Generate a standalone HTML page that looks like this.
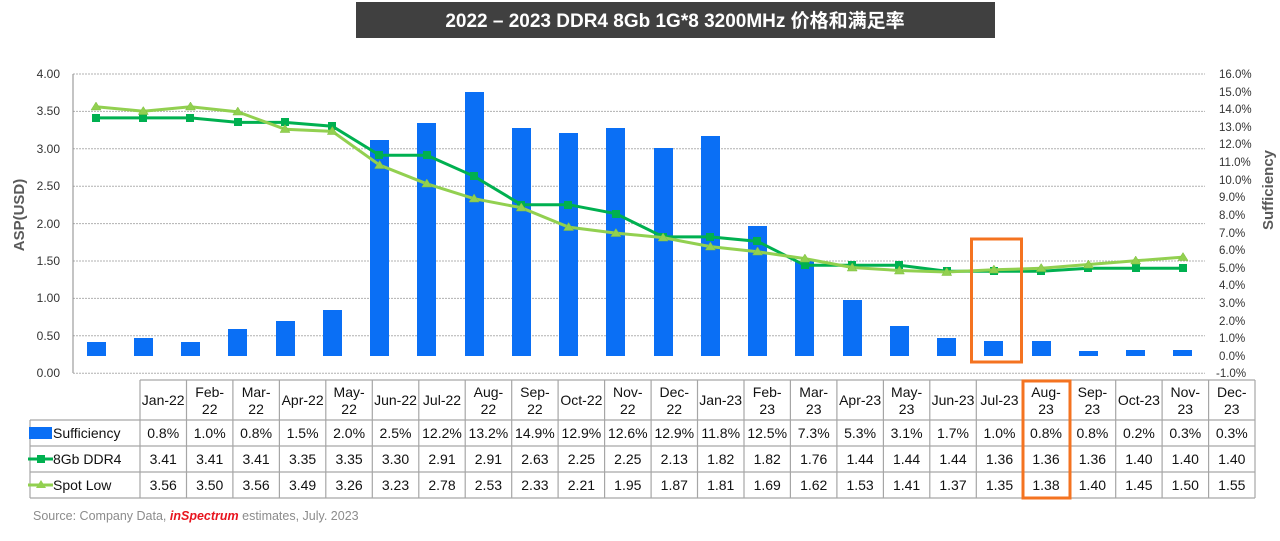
<!DOCTYPE html>
<html><head><meta charset="utf-8"><style>
html,body{margin:0;padding:0;background:#fff;}
svg{display:block;font-family:"Liberation Sans","Noto Sans CJK SC",sans-serif;}
</style></head><body>
<svg width="1280" height="541" viewBox="0 0 1280 541" xmlns="http://www.w3.org/2000/svg">
<rect x="356" y="2" width="639" height="36" fill="#404040"/>
<text x="675" y="27" fill="#fff" font-size="19" font-weight="bold" text-anchor="middle">2022 – 2023 DDR4 8Gb 1G*8 3200MHz 价格和满足率</text>

<g stroke="#b0b0b0" stroke-dasharray="2,1" stroke-width="1">
<line x1="73" x2="1205" y1="74" y2="74"/><line x1="73" x2="1205" y1="111.4" y2="111.4"/>
<line x1="73" x2="1205" y1="148.8" y2="148.8"/><line x1="73" x2="1205" y1="186.2" y2="186.2"/>
<line x1="73" x2="1205" y1="223.6" y2="223.6"/><line x1="73" x2="1205" y1="261" y2="261"/>
<line x1="73" x2="1205" y1="298.4" y2="298.4"/><line x1="73" x2="1205" y1="335.8" y2="335.8"/>
<line x1="73" x2="1205" y1="373.2" y2="373.2"/>
</g>
<line x1="73" x2="73" y1="74" y2="373" stroke="#888"/>
<g font-size="12" fill="#333" text-anchor="end">
<text x="60" y="78">4.00</text><text x="60" y="115">3.50</text><text x="60" y="153">3.00</text>
<text x="60" y="190">2.50</text><text x="60" y="228">2.00</text><text x="60" y="265">1.50</text>
<text x="60" y="302">1.00</text><text x="60" y="340">0.50</text><text x="60" y="377">0.00</text>
</g>
<text transform="translate(24,215) rotate(-90)" font-size="15" font-weight="bold" fill="#595959" text-anchor="middle">ASP(USD)</text>
<g font-size="11.5" fill="#333">
<text x="1219" y="78">16.0%</text><text x="1219" y="96">15.0%</text><text x="1219" y="113">14.0%</text>
<text x="1219" y="131">13.0%</text><text x="1219" y="148">12.0%</text><text x="1219" y="166">11.0%</text>
<text x="1219" y="184">10.0%</text><text x="1219" y="201">9.0%</text><text x="1219" y="219">8.0%</text>
<text x="1219" y="237">7.0%</text><text x="1219" y="254">6.0%</text><text x="1219" y="272">5.0%</text>
<text x="1219" y="289">4.0%</text><text x="1219" y="307">3.0%</text><text x="1219" y="325">2.0%</text>
<text x="1219" y="342">1.0%</text><text x="1219" y="360">0.0%</text><text x="1216" y="377">-1.0%</text>
</g>
<text transform="translate(1273,190) rotate(-90)" font-size="15" font-weight="bold" fill="#595959" text-anchor="middle">Sufficiency</text>

<g fill="#0a6ff5">
<rect x="87" y="342" width="19" height="14"/><rect x="134" y="338" width="19" height="18"/>
<rect x="181" y="342" width="19" height="14"/><rect x="228" y="329" width="19" height="27"/>
<rect x="276" y="321" width="19" height="35"/><rect x="323" y="310" width="19" height="46"/>
<rect x="370" y="140" width="19" height="216"/><rect x="417" y="123" width="19" height="233"/>
<rect x="465" y="92" width="19" height="264"/><rect x="512" y="128" width="19" height="228"/>
<rect x="559" y="133" width="19" height="223"/><rect x="606" y="128" width="19" height="228"/>
<rect x="654" y="148" width="19" height="208"/><rect x="701" y="136" width="19" height="220"/>
<rect x="748" y="226" width="19" height="130"/><rect x="795" y="261" width="19" height="95"/>
<rect x="843" y="300" width="19" height="56"/><rect x="890" y="326" width="19" height="30"/>
<rect x="937" y="338" width="19" height="18"/><rect x="984" y="341" width="19" height="15"/>
<rect x="1032" y="341" width="19" height="15"/><rect x="1079" y="351" width="19" height="5"/>
<rect x="1126" y="350" width="19" height="6"/><rect x="1173" y="350" width="19" height="6"/>
</g>

<polyline fill="none" stroke="#00b050" stroke-width="3" points="96,117.9 143.3,117.9 190.5,117.9 237.8,122.4 285,122.4 332.3,126.2 379.6,155.3 426.8,155.3 474.1,176.3 521.3,204.7 568.6,204.7 615.9,213.7 663.1,236.9 710.4,236.9 757.6,241.4 804.9,265.3 852.2,265.3 899.4,265.3 946.7,271.3 993.9,271.3 1041.2,271.3 1088.5,268.3 1135.7,268.3 1183,268.3"/>
<g fill="#00b050">
<rect x="92" y="114" width="8" height="8"/><rect x="139" y="114" width="8" height="8"/><rect x="186" y="114" width="8" height="8"/>
<rect x="234" y="118" width="8" height="8"/><rect x="281" y="118" width="8" height="8"/><rect x="328" y="122" width="8" height="8"/>
<rect x="375" y="151" width="8" height="8"/><rect x="423" y="151" width="8" height="8"/><rect x="470" y="172" width="8" height="8"/>
<rect x="517" y="201" width="8" height="8"/><rect x="564" y="201" width="8" height="8"/><rect x="612" y="210" width="8" height="8"/>
<rect x="659" y="233" width="8" height="8"/><rect x="706" y="233" width="8" height="8"/><rect x="753" y="237" width="8" height="8"/>
<rect x="801" y="261" width="8" height="8"/><rect x="848" y="261" width="8" height="8"/><rect x="895" y="261" width="8" height="8"/>
<rect x="943" y="267" width="8" height="8"/><rect x="990" y="267" width="8" height="8"/><rect x="1037" y="267" width="8" height="8"/>
<rect x="1084" y="264" width="8" height="8"/><rect x="1132" y="264" width="8" height="8"/><rect x="1179" y="264" width="8" height="8"/>
</g>
<polyline fill="none" stroke="#92d050" stroke-width="3" points="96,106.7 143.3,111.2 190.5,106.7 237.8,111.9 285,129.2 332.3,131.4 379.6,165.1 426.8,183.8 474.1,198.7 521.3,207.7 568.6,227.1 615.9,233.1 663.1,237.6 710.4,246.6 757.6,251.8 804.9,258.6 852.2,267.5 899.4,270.5 946.7,272 993.9,269.8 1041.2,268.3 1088.5,264.5 1135.7,260.8 1183,257.1"/>
<g fill="#92d050" stroke="#7fbf3f" stroke-width="0.5">
<path d="M96,102 l5,8 h-10z"/><path d="M143.3,106.5 l5,8 h-10z"/><path d="M190.5,102 l5,8 h-10z"/>
<path d="M237.8,107 l5,8 h-10z"/><path d="M285,124.5 l5,8 h-10z"/><path d="M332.3,126.5 l5,8 h-10z"/>
<path d="M379.6,160.5 l5,8 h-10z"/><path d="M426.8,179 l5,8 h-10z"/><path d="M474.1,194 l5,8 h-10z"/>
<path d="M521.3,203 l5,8 h-10z"/><path d="M568.6,222.5 l5,8 h-10z"/><path d="M615.9,228.5 l5,8 h-10z"/>
<path d="M663.1,233 l5,8 h-10z"/><path d="M710.4,242 l5,8 h-10z"/><path d="M757.6,247 l5,8 h-10z"/>
<path d="M804.9,254 l5,8 h-10z"/><path d="M852.2,263 l5,8 h-10z"/><path d="M899.4,266 l5,8 h-10z"/>
<path d="M946.7,267.5 l5,8 h-10z"/><path d="M993.9,265 l5,8 h-10z"/><path d="M1041.2,263.5 l5,8 h-10z"/>
<path d="M1088.5,260 l5,8 h-10z"/><path d="M1135.7,256 l5,8 h-10z"/><path d="M1183,252.5 l5,8 h-10z"/>
</g>

<!-- table -->
<g stroke="#a6a6a6" stroke-width="1.2" fill="none">
<line x1="140" x2="1255" y1="380" y2="380"/><line x1="30" x2="1255" y1="420" y2="420"/>
<line x1="30" x2="1255" y1="446" y2="446"/><line x1="30" x2="1255" y1="472" y2="472"/>
<line x1="30" x2="1255" y1="498" y2="498"/>
<line x1="30" x2="30" y1="420" y2="498"/>
<line x1="140" x2="140" y1="380" y2="498"/><line x1="186.5" x2="186.5" y1="380" y2="498"/><line x1="232.9" x2="232.9" y1="380" y2="498"/>
<line x1="279.4" x2="279.4" y1="380" y2="498"/><line x1="325.8" x2="325.8" y1="380" y2="498"/><line x1="372.3" x2="372.3" y1="380" y2="498"/>
<line x1="418.8" x2="418.8" y1="380" y2="498"/><line x1="465.2" x2="465.2" y1="380" y2="498"/><line x1="511.7" x2="511.7" y1="380" y2="498"/>
<line x1="558.1" x2="558.1" y1="380" y2="498"/><line x1="604.6" x2="604.6" y1="380" y2="498"/><line x1="651.1" x2="651.1" y1="380" y2="498"/>
<line x1="697.5" x2="697.5" y1="380" y2="498"/><line x1="744" x2="744" y1="380" y2="498"/><line x1="790.4" x2="790.4" y1="380" y2="498"/>
<line x1="836.9" x2="836.9" y1="380" y2="498"/><line x1="883.4" x2="883.4" y1="380" y2="498"/><line x1="929.8" x2="929.8" y1="380" y2="498"/>
<line x1="976.3" x2="976.3" y1="380" y2="498"/><line x1="1022.7" x2="1022.7" y1="380" y2="498"/><line x1="1069.2" x2="1069.2" y1="380" y2="498"/>
<line x1="1115.7" x2="1115.7" y1="380" y2="498"/><line x1="1162.1" x2="1162.1" y1="380" y2="498"/><line x1="1208.6" x2="1208.6" y1="380" y2="498"/>
<line x1="1255" x2="1255" y1="380" y2="498"/>
</g>
<g font-size="14" fill="#111" text-anchor="middle">
<text x="163.2" y="405">Jan-22</text>
<text x="209.7" y="397">Feb-</text><text x="209.7" y="414">22</text>
<text x="256.1" y="397">Mar-</text><text x="256.1" y="414">22</text>
<text x="302.6" y="405">Apr-22</text>
<text x="349.1" y="397">May-</text><text x="349.1" y="414">22</text>
<text x="395.5" y="405">Jun-22</text>
<text x="442" y="405">Jul-22</text>
<text x="488.4" y="397">Aug-</text><text x="488.4" y="414">22</text>
<text x="534.9" y="397">Sep-</text><text x="534.9" y="414">22</text>
<text x="581.4" y="405">Oct-22</text>
<text x="627.8" y="397">Nov-</text><text x="627.8" y="414">22</text>
<text x="674.3" y="397">Dec-</text><text x="674.3" y="414">22</text>
<text x="720.7" y="405">Jan-23</text>
<text x="767.2" y="397">Feb-</text><text x="767.2" y="414">23</text>
<text x="813.7" y="397">Mar-</text><text x="813.7" y="414">23</text>
<text x="860.1" y="405">Apr-23</text>
<text x="906.6" y="397">May-</text><text x="906.6" y="414">23</text>
<text x="953" y="405">Jun-23</text>
<text x="999.5" y="405">Jul-23</text>
<text x="1046" y="397">Aug-</text><text x="1046" y="414">23</text>
<text x="1092.4" y="397">Sep-</text><text x="1092.4" y="414">23</text>
<text x="1138.9" y="405">Oct-23</text>
<text x="1185.3" y="397">Nov-</text><text x="1185.3" y="414">23</text>
<text x="1231.8" y="397">Dec-</text><text x="1231.8" y="414">23</text>
</g>
<g font-size="14" fill="#111" text-anchor="middle">
<text y="438"><tspan x="163.2">0.8%</tspan><tspan x="209.7">1.0%</tspan><tspan x="256.1">0.8%</tspan><tspan x="302.6">1.5%</tspan><tspan x="349.1">2.0%</tspan><tspan x="395.5">2.5%</tspan><tspan x="442">12.2%</tspan><tspan x="488.4">13.2%</tspan><tspan x="534.9">14.9%</tspan><tspan x="581.4">12.9%</tspan><tspan x="627.8">12.6%</tspan><tspan x="674.3">12.9%</tspan><tspan x="720.7">11.8%</tspan><tspan x="767.2">12.5%</tspan><tspan x="813.7">7.3%</tspan><tspan x="860.1">5.3%</tspan><tspan x="906.6">3.1%</tspan><tspan x="953">1.7%</tspan><tspan x="999.5">1.0%</tspan><tspan x="1046">0.8%</tspan><tspan x="1092.4">0.8%</tspan><tspan x="1138.9">0.2%</tspan><tspan x="1185.3">0.3%</tspan><tspan x="1231.8">0.3%</tspan></text>
<text y="464"><tspan x="163.2">3.41</tspan><tspan x="209.7">3.41</tspan><tspan x="256.1">3.41</tspan><tspan x="302.6">3.35</tspan><tspan x="349.1">3.35</tspan><tspan x="395.5">3.30</tspan><tspan x="442">2.91</tspan><tspan x="488.4">2.91</tspan><tspan x="534.9">2.63</tspan><tspan x="581.4">2.25</tspan><tspan x="627.8">2.25</tspan><tspan x="674.3">2.13</tspan><tspan x="720.7">1.82</tspan><tspan x="767.2">1.82</tspan><tspan x="813.7">1.76</tspan><tspan x="860.1">1.44</tspan><tspan x="906.6">1.44</tspan><tspan x="953">1.44</tspan><tspan x="999.5">1.36</tspan><tspan x="1046">1.36</tspan><tspan x="1092.4">1.36</tspan><tspan x="1138.9">1.40</tspan><tspan x="1185.3">1.40</tspan><tspan x="1231.8">1.40</tspan></text>
<text y="490"><tspan x="163.2">3.56</tspan><tspan x="209.7">3.50</tspan><tspan x="256.1">3.56</tspan><tspan x="302.6">3.49</tspan><tspan x="349.1">3.26</tspan><tspan x="395.5">3.23</tspan><tspan x="442">2.78</tspan><tspan x="488.4">2.53</tspan><tspan x="534.9">2.33</tspan><tspan x="581.4">2.21</tspan><tspan x="627.8">1.95</tspan><tspan x="674.3">1.87</tspan><tspan x="720.7">1.81</tspan><tspan x="767.2">1.69</tspan><tspan x="813.7">1.62</tspan><tspan x="860.1">1.53</tspan><tspan x="906.6">1.41</tspan><tspan x="953">1.37</tspan><tspan x="999.5">1.35</tspan><tspan x="1046">1.38</tspan><tspan x="1092.4">1.40</tspan><tspan x="1138.9">1.45</tspan><tspan x="1185.3">1.50</tspan><tspan x="1231.8">1.55</tspan></text>
</g>
<rect x="29" y="427" width="23" height="12" fill="#0a6ff5"/>
<line x1="28" x2="53" y1="459" y2="459" stroke="#00b050" stroke-width="3"/><rect x="37" y="455" width="8" height="8" fill="#00b050"/>
<line x1="28" x2="53" y1="485" y2="485" stroke="#92d050" stroke-width="3"/><path d="M41,480 l5,8 h-10z" fill="#92d050"/>
<g font-size="14" fill="#111">
<text x="53" y="438">Sufficiency</text><text x="53" y="464">8Gb DDR4</text><text x="53" y="490">Spot Low</text>
</g>

<rect x="971.5" y="239" width="50" height="123" fill="none" stroke="#f47320" stroke-width="3"/>
<rect x="1023" y="381" width="47" height="117" fill="none" stroke="#f47320" stroke-width="3"/>

<text x="33" y="520" font-size="12.5" fill="#8c8c8c">Source: Company Data, <tspan fill="#e8141e" font-weight="bold" font-style="italic">inSpectrum</tspan> estimates,  July. 2023</text>
</svg>
</body></html>
